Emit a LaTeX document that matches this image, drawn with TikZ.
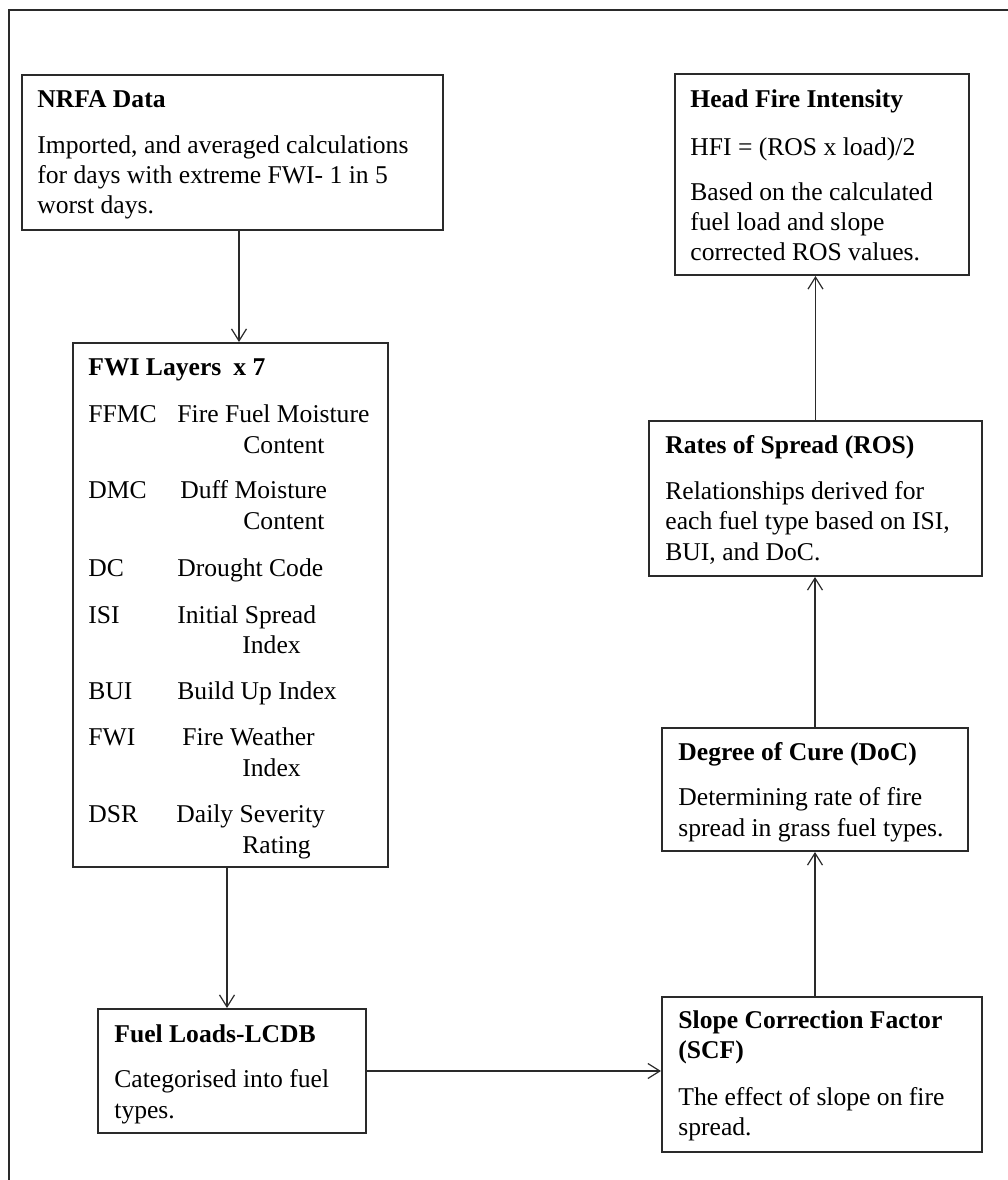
\documentclass[tikz,border=0pt]{standalone}
\usepackage{fontspec}
\setmainfont{Liberation Serif}
\usetikzlibrary{arrows.meta,fit}
\definecolor{ink}{HTML}{2A2A2A}
\tikzset{
  box/.style={draw=ink, line width=1pt, inner sep=0pt, fill=white},
  arr/.style={draw=ink, line width=0.75pt, -{Straight Barb[length=6pt,width=7.5pt,line width=0.6pt]}},
  tx/.style={anchor=base west, inner sep=0pt, text=black, font=\fontsize{12.8}{15}\selectfont},
  tb/.style={tx, font=\fontsize{12.8}{15}\selectfont\bfseries},
}
\newcommand\mytext[5][tx]{\node[#1] (#2) at (#3,#4) {#5};}
\begin{document}
\begin{tikzpicture}[x=0.5pt,y=-0.5pt]
\useasboundingbox (0,0) rectangle (1008,1180);
\fill[white] (0,0) rectangle (1008,1180);
\draw[ink, line width=1pt] (9,1180) -- (9,10) -- (1008,10);

% boxes
\node[box, fit={(22,75) (443,230)}] (nrfa) {};
\node[box, fit={(73,343) (388,867)}] (fwi) {};
\node[box, fit={(98,1009) (366,1133)}] (fuel) {};
\node[box, fit={(662,997) (982,1152)}] (scf) {};
\node[box, fit={(662,728) (968,851)}] (doc) {};
\node[box, fit={(649,421) (982,576)}] (ros) {};
\node[box, fit={(675,74) (969,275)}] (hfi) {};

% NRFA
\mytext[tb]{n0}{37}{107}{NRFA Data}
\mytext{n1}{37}{153}{Imported, and averaged calculations}
\mytext{n2}{37}{183}{for days with extreme FWI- 1 in 5}
\mytext{n3}{37}{213}{worst days.}

% HFI
\mytext[tb]{h0}{690}{107}{Head Fire Intensity}
\mytext{h1}{690}{155}{HFI = (ROS x load)/2}
\mytext{h2}{690}{200}{Based on the calculated}
\mytext{h3}{690}{230}{fuel load and slope}
\mytext{h4}{690}{260}{corrected ROS values.}

% ROS
\mytext[tb]{r0}{665}{453}{Rates of Spread (ROS)}
\mytext{r1}{665}{499}{Relationships derived for}
\mytext{r2}{665}{529}{each fuel type based on ISI,}
\mytext{r3}{665}{560}{BUI, and DoC.}

% DoC
\mytext[tb]{d0}{678}{760}{Degree of Cure (DoC)}
\mytext{d1}{678}{805}{Determining rate of fire}
\mytext{d2}{678}{836}{spread in grass fuel types.}

% SCF
\mytext[tb]{s0}{678}{1028}{Slope Correction Factor}
\mytext[tb]{s1}{678}{1058}{(SCF)}
\mytext{s2}{678}{1105}{The effect of slope on fire}
\mytext{s3}{678}{1135}{spread.}

% Fuel
\mytext[tb]{f0}{114}{1042}{Fuel Loads-LCDB}
\mytext{f1}{114}{1087}{Categorised into fuel}
\mytext{f2}{114}{1118}{types.}

% FWI layers
\mytext[tb]{w0}{88}{375}{FWI Layers}
\mytext[tb]{w0b}{233}{375}{x 7}
\mytext{a1}{88}{422}{FFMC}
\mytext{b1}{177}{422}{Fire Fuel Moisture}
\mytext{c1}{243}{453}{Content}
\mytext{a2}{88}{498}{DMC}
\mytext{b2}{180}{498}{Duff Moisture}
\mytext{c2}{243}{529}{Content}
\mytext{a3}{88}{576}{DC}
\mytext{b3}{177}{576}{Drought Code}
\mytext{a4}{88}{623}{ISI}
\mytext{b4}{177}{623}{Initial Spread}
\mytext{c4}{242}{653}{Index}
\mytext{a5}{88}{699}{BUI}
\mytext{b5}{177}{699}{Build Up Index}
\mytext{a6}{88}{745}{FWI}
\mytext{b6}{182}{745}{Fire Weather}
\mytext{c6}{242}{776}{Index}
\mytext{a7}{88}{822}{DSR}
\mytext{b7}{176}{822}{Daily Severity}
\mytext{c7}{242}{853}{Rating}

% connectors
\draw[arr] ([xshift=3.25pt]nrfa.south) -- ([xshift=3.25pt]nrfa.south |- fwi.north);
\draw[arr] ([xshift=-1.75pt]fwi.south) -- ([xshift=-1.75pt]fwi.south |- fuel.north);
\draw[arr] (fuel.east) -- (fuel.east -| scf.west);
\draw[arr] (doc.south |- scf.north) -- (doc.south);
\draw[arr] (doc.north) -- (doc.north |- ros.south);
\draw[arr] (ros.north) -- (ros.north |- hfi.south);
\end{tikzpicture}
\end{document}
